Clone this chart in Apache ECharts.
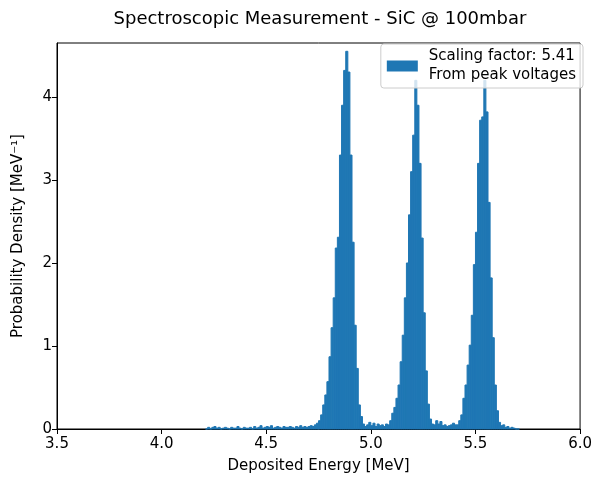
<!DOCTYPE html>
<html>
<head>
<meta charset="utf-8">
<script src="https://cdn.jsdelivr.net/npm/echarts@6/dist/echarts.min.js"></script>
<style>
  html, body { margin: 0; padding: 0; background: #fff; }
  #chart { width: 595px; height: 481px; }
</style>
</head>
<body>
<div id="chart"></div>
<script>
// Histogram binning (MeV)
const binLo = 4.21;
const binWidth = 0.01;

// Probability density per bin [MeV^-1], starting at binLo
const density = [
  // 4.21 - 4.30
  0, 0.02, 0, 0.02, 0.03, 0.01, 0.02, 0, 0.01, 0.02,
  // 4.31 - 4.40
  0.01, 0, 0.02, 0.01, 0.01, 0.03, 0.01, 0, 0.02, 0.01,
  // 4.41 - 4.50
  0.01, 0.02, 0, 0.03, 0.01, 0.02, 0.04, 0.01, 0.02, 0.03,
  // 4.51 - 4.60
  0.02, 0.04, 0.01, 0.02, 0.03, 0.02, 0.01, 0.03, 0.02, 0.02,
  // 4.61 - 4.70
  0.03, 0.02, 0.01, 0.03, 0.02, 0.04, 0.02, 0.03, 0.02, 0.03,
  // 4.71 - 4.80
  0.04, 0.03, 0.05, 0.07, 0.10, 0.17, 0.29, 0.41, 0.57, 0.87,
  // 4.81 - 4.90
  1.22, 1.58, 2.18, 2.31, 3.30, 3.90, 4.32, 4.55, 4.30, 3.30,
  // 4.91 - 5.00
  2.25, 1.25, 0.73, 0.29, 0.15, 0.06, 0.03, 0.05, 0.08, 0.04,
  // 5.01 - 5.10
  0.07, 0.03, 0.06, 0.04, 0.05, 0.03, 0.06, 0.05, 0.10, 0.19,
  // 5.11 - 5.20
  0.26, 0.37, 0.53, 0.81, 1.13, 1.58, 2.00, 2.58, 3.10, 3.54,
  // 5.21 - 5.30
  4.20, 3.90, 3.20, 2.30, 1.40, 0.70, 0.30, 0.12, 0.06, 0.05,
  // 5.31 - 5.40
  0.10, 0.06, 0.09, 0.04, 0.05, 0.03, 0.04, 0.05, 0.07, 0.05,
  // 5.41 - 5.50
  0.05, 0.10, 0.17, 0.37, 0.53, 0.77, 1.01, 1.37, 1.98, 2.37,
  // 5.51 - 5.60
  3.20, 3.72, 3.76, 4.20, 3.82, 2.73, 1.82, 1.10, 0.53, 0.22,
  // 5.61 - 5.70
  0.08, 0.04, 0.05, 0.02, 0.03, 0.01, 0.02, 0.01, 0, 0
];

const xTicks = { min: 3.5, max: 6.0, step: 0.5 };
const yTicks = { min: 0, max: 4.65, step: 1 };

const titleText = 'Spectroscopic Measurement - SiC @ 100mbar';
const xLabel = 'Deposited Energy [MeV]';
const yLabel = 'Probability Density [MeV\u207B\u00B9]';
const legendLabel = 'Scaling factor: 5.41\nFrom peak voltages';

const barColor = '#1f77b4';
const font = 'DejaVu Sans';

// [left edge, right edge, density] for each histogram bar
const bars = density.map((d, i) => [
  +(binLo + i * binWidth).toFixed(4),
  +(binLo + (i + 1) * binWidth).toFixed(4),
  d
]);

const chart = echarts.init(document.getElementById('chart'), null, { renderer: 'canvas' });

chart.setOption({
  animation: false,
  backgroundColor: '#fff',
  title: {
    text: titleText,
    left: 315,
    top: 5,
    textAlign: 'center',
    textStyle: { fontFamily: font, fontSize: 18, fontWeight: 'normal', color: '#000' }
  },
  legend: {
    right: 12,
    top: 44,
    data: [{ name: legendLabel, icon: 'rect' }],
    itemWidth: 31,
    itemHeight: 11,
    itemGap: 0,
    padding: [3, 7, 3, 6],
    borderColor: '#cccccc',
    borderWidth: 1,
    borderRadius: 3,
    backgroundColor: 'rgba(255,255,255,0.8)',
    textStyle: { fontFamily: font, fontSize: 15, color: '#000', lineHeight: 19, padding: [0, 0, 0, 6] }
  },
  grid: {
    left: 57, right: 9, top: 43, bottom: 52,
    show: true,
    borderColor: '#000',
    borderWidth: 1,
    containLabel: false
  },
  xAxis: {
    type: 'value',
    min: xTicks.min,
    max: xTicks.max,
    interval: xTicks.step,
    name: xLabel,
    nameLocation: 'middle',
    nameGap: 30,
    nameTextStyle: { fontFamily: font, fontSize: 15, color: '#000' },
    axisLine: { show: true, lineStyle: { color: '#000', width: 1 } },
    axisTick: { show: true, length: 5, lineStyle: { color: '#000' } },
    axisLabel: {
      fontFamily: font, fontSize: 15, color: '#000', margin: 8,
      formatter: v => v.toFixed(1)
    },
    splitLine: { show: false }
  },
  yAxis: {
    type: 'value',
    min: yTicks.min,
    max: yTicks.max,
    interval: yTicks.step,
    name: yLabel,
    nameLocation: 'middle',
    nameGap: 31,
    nameRotate: 90,
    nameTextStyle: { fontFamily: font, fontSize: 15, color: '#000' },
    axisLine: { show: true, lineStyle: { color: '#000', width: 1 } },
    axisTick: { show: true, length: 5, lineStyle: { color: '#000' } },
    axisLabel: {
      fontFamily: font, fontSize: 15, color: '#000', margin: 5,
      formatter: v => String(Math.round(v)),
      showMaxLabel: false
    },
    splitLine: { show: false }
  },
  series: [{
    name: legendLabel,
    type: 'custom',
    itemStyle: { color: barColor },
    encode: { x: [0, 1], y: 2 },
    data: bars,
    renderItem: function (params, api) {
      const p0 = api.coord([api.value(0), api.value(2)]);
      const p1 = api.coord([api.value(1), 0]);
      const rect = echarts.graphic.clipRectByRect(
        { x: p0[0], y: p0[1], width: p1[0] - p0[0], height: p1[1] - p0[1] },
        { x: params.coordSys.x, y: params.coordSys.y, width: params.coordSys.width, height: params.coordSys.height }
      );
      return rect && {
        type: 'rect',
        shape: rect,
        style: { fill: barColor, stroke: barColor, lineWidth: 1 }
      };
    }
  }]
});
</script>
</body>
</html>
